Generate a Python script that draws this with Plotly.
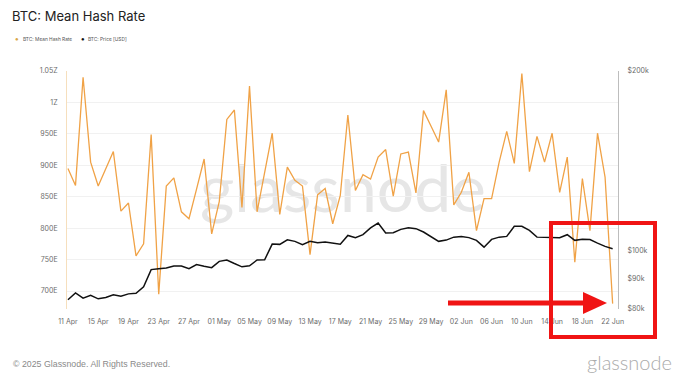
import plotly.graph_objects as go
import pandas as pd

# ---------------- data ----------------
dates = pd.date_range("2025-04-11", "2025-06-22", freq="D")

hash_rate_e = [895, 868, 1040, 905, 867, 895, 922, 827, 840, 756,
               775, 949, 695, 867, 880, 826, 815, 862, 910, 791,
               842, 973, 988, 833, 1026, 826, 889, 951, 822, 897,
               876, 867, 758, 853, 863, 807, 852, 980, 860, 885,
               878, 913, 925, 851, 918, 921, 856, 987, 962, 937,
               1020, 837, 857, 889, 796, 847, 847, 905, 954, 903,
               1046, 890, 946, 905, 951, 857, 913, 746, 879, 796,
               951, 881, 680]

price_k = [82.9, 85.1, 83.4, 84.3, 83.2, 83.6, 84.5, 84.0, 84.8, 85.0,
           87.1, 93.1, 93.4, 93.7, 94.4, 94.4, 93.4, 94.9, 94.3, 93.8,
           96.1, 96.6, 95.3, 94.1, 94.5, 96.6, 96.7, 102.7, 102.6, 104.4,
           103.8, 102.5, 103.8, 103.2, 103.5, 103.2, 102.7, 106.2, 105.3, 106.5,
           109.3, 111.4, 107.2, 107.3, 108.7, 109.4, 109.0, 107.6, 105.5, 103.8,
           104.3, 105.5, 105.8, 105.3, 104.2, 101.5, 104.6, 105.5, 105.8, 110.0,
           110.0, 108.3, 105.5, 105.5, 105.3, 105.3, 106.5, 104.2, 104.6, 104.5,
           103.1, 101.8, 100.9]
price_usd = [p * 1000 for p in price_k]

left_tickvals = [700, 750, 800, 850, 900, 950, 1000, 1050]
left_ticktext = ["700E", "750E", "800E", "850E", "900E", "950E", "1Z", "1.05Z"]
right_tickvals = [80000, 90000, 100000, 200000]
right_ticktext = ["$80k", "$90k", "$100k", "$200k"]
x_tickvals = pd.date_range("2025-04-11", "2025-06-22", freq="4D")

# ---------------- layout geometry ----------------
# the page body adds an 8px margin, so the figure is drawn 8px smaller
OFF = 8
W, H = 680 - OFF, 378 - OFF
L, R, T, B = 67 - OFF, 618 - OFF, 71 - OFF, 309 - OFF
PW, PH = R - L, B - T


def px(x):
    return (x - OFF - L) / PW


def py(y):
    return (B - (y - OFF)) / PH


ORANGE = "#f0a246"
RED = "#f01414"
TICK_FONT = dict(family="Inter, Roboto, sans-serif", size=7, color="#6b6b6b")

fig = go.Figure()

fig.add_trace(go.Scatter(
    x=dates, y=hash_rate_e, mode="lines", name="BTC: Mean Hash Rate",
    line=dict(color=ORANGE, width=1.3), yaxis="y"))
fig.add_trace(go.Scatter(
    x=dates, y=price_usd, mode="lines", name="BTC: Price [USD]",
    line=dict(color="#111111", width=1.5), yaxis="y2"))

fig.update_layout(
    width=W, height=H,
    margin=dict(l=L, r=W - R, t=T, b=H - B, pad=0),
    paper_bgcolor="white", plot_bgcolor="white",
    showlegend=False,
    title=dict(text="BTC: Mean Hash Rate", x=(12 - OFF) / W, xref="container",
               xanchor="left", y=1 - (16 - OFF) / H, yref="container", yanchor="middle",
               font=dict(family="Inter, Roboto, sans-serif", size=13, color="#222222")),
    xaxis=dict(
        type="date",
        range=["2025-04-10 21:00", "2025-06-22 17:00"],
        tickvals=x_tickvals, tickformat="%d %b",
        showgrid=False, zeroline=False, showline=False,
        ticks="outside", ticklen=6, tickcolor="rgba(0,0,0,0)",
        tickfont=TICK_FONT, automargin=False,
    ),
    yaxis=dict(
        range=[671.4, 1050], tickvals=left_tickvals, ticktext=left_ticktext,
        showgrid=True, gridcolor="#f1f1f1", gridwidth=1, zeroline=False,
        showline=True, linecolor="#f6dfbd", linewidth=1,
        ticks="outside", ticklen=7, tickcolor="rgba(0,0,0,0)",
        tickfont=TICK_FONT, automargin=False,
    ),
    yaxis2=dict(
        type="log", overlaying="y", side="right",
        range=[4.90309, 5.30103],
        tickvals=right_tickvals, ticktext=right_ticktext,
        showgrid=False, zeroline=False,
        showline=True, linecolor="#bdbdbd", linewidth=1,
        ticks="outside", ticklen=7, tickcolor="rgba(0,0,0,0)",
        tickfont=TICK_FONT, automargin=False,
    ),
)

shapes = [
    # watermark
    dict(type="rect", xref="paper", yref="paper",
         x0=px(180), x1=px(506), y0=py(215), y1=py(155),
         line=dict(width=0), fillcolor="rgba(0,0,0,0)", layer="below",
         label=dict(text="glassnode", textposition="middle center",
                    font=dict(family="Lato, Inter, sans-serif", size=66,
                              color="#e6e6e6", weight=400))),
    # red highlight box
    dict(type="rect", xref="paper", yref="paper",
         x0=px(551), x1=px(655), y0=py(337), y1=py(223),
         line=dict(color=RED, width=4), fillcolor="rgba(0,0,0,0)", layer="above"),
    # red arrow shaft
    dict(type="line", xref="paper", yref="paper",
         x0=px(448), x1=px(588), y0=py(303), y1=py(303),
         line=dict(color=RED, width=5), layer="above"),
    # red arrow head
    dict(type="path", xref="paper", yref="paper",
         path=f"M {px(583)} {py(292)} L {px(607)} {py(303)} L {px(583)} {py(314)} Z",
         line=dict(color=RED, width=0), fillcolor=RED, layer="above"),
]
fig.update_layout(shapes=shapes)

LEG_FONT = dict(family="Inter, Roboto, sans-serif", size=4.8, color="#555555")
annotations = [
    dict(text="●", x=px(17), y=py(39), xref="paper", yref="paper",
         xanchor="center", yanchor="middle", showarrow=False,
         font=dict(size=6, color="#d9a548")),
    dict(text="BTC: Mean Hash Rate", x=px(20.5), y=py(39), xref="paper", yref="paper",
         xanchor="left", yanchor="middle", showarrow=False, font=LEG_FONT),
    dict(text="●", x=px(82.5), y=py(39), xref="paper", yref="paper",
         xanchor="center", yanchor="middle", showarrow=False,
         font=dict(size=6, color="#111111")),
    dict(text="BTC: Price [USD]", x=px(86), y=py(39), xref="paper", yref="paper",
         xanchor="left", yanchor="middle", showarrow=False, font=LEG_FONT),
    dict(text="© 2025 Glassnode. All Rights Reserved.", x=px(11), y=py(364),
         xref="paper", yref="paper", xanchor="left", yanchor="middle",
         showarrow=False,
         font=dict(family="Liberation Sans, Arial, sans-serif", size=8.8, color="#8a8a8a")),
    dict(text="glassnode", x=px(674), y=py(362), xref="paper", yref="paper",
         xanchor="right", yanchor="middle", showarrow=False,
         font=dict(family="Lato, Inter, sans-serif", size=20, color="#ababab", weight=300)),
]
fig.update_layout(annotations=annotations)

fig.write_html("out.html")
